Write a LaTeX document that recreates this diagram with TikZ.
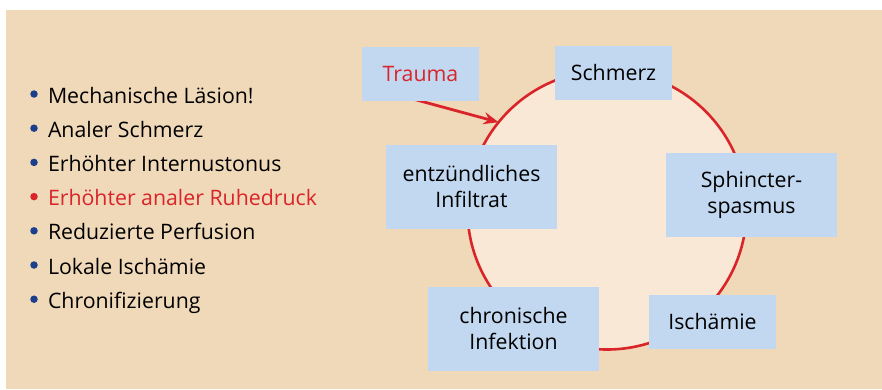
\documentclass[tikz,border=0pt]{standalone}
\usepackage{fontspec}
\setmainfont{Open Sans}
\usetikzlibrary{arrows.meta}
\definecolor{bgc}{HTML}{F0D9B9}
\definecolor{ringfill}{HTML}{F8E8D5}
\definecolor{boxc}{HTML}{C2D8F0}
\definecolor{redc}{HTML}{D9242A}
\definecolor{bluec}{HTML}{1B3F8B}
\begin{document}
\begin{tikzpicture}[x=1pt,y=-1pt,
  every node/.style={inner sep=0pt, outer sep=0pt},
  txt/.style={font=\fontsize{21.3}{26}\selectfont, text=black},
  box/.style={txt, fill=boxc, align=center},
  item/.style={txt, anchor=base west},
  bul/.style={circle, fill=bluec, minimum size=7.5pt},
  ring/.style={circle, draw=redc, line width=2.6pt, fill=ringfill, minimum size=279pt},
  arr/.style={draw=redc, line width=2.8pt, -{Stealth[length=15pt,width=12pt]}}]
\useasboundingbox (0,0) rectangle (882,389);
\fill[white] (0,0) rectangle (882,389);
\fill[bgc] (6,10) rectangle (882,389);
% list
\foreach \t [count=\i] in {Mechanische Läsion!,Analer Schmerz,Erhöhter Internustonus,Erhöhter analer Ruhedruck,Reduzierte Perfusion,Lokale Ischämie,Chronifizierung}{
  \pgfmathsetmacro{\yy}{103+34.2*(\i-1)}
  \ifnum\i=4
    \node[bul, fill=redc] (b\i) at (34,\yy-9) {};
    \node[item, text=redc] (t\i) at (48,\yy) {\t};
  \else
    \node[bul] (b\i) at (34,\yy-9) {};
    \node[item] (t\i) at (48,\yy) {\t};
  \fi
}
% ring
\node[ring] (cyc) at (607,210) {};
\coordinate (ts) at (413,99);
\draw[arr] (ts) -- (cyc.141);
% boxes
\node[box, minimum width=117pt, minimum height=54pt, text=redc] (trauma) at (420.5,74) {Trauma};
\node[box, minimum width=117pt, minimum height=54pt] (schmerz) at (613.5,73) {Schmerz};
\node[box, minimum width=171pt, minimum height=84pt] (infil) at (471.5,187) {entzündliches\\Infiltrat};
\node[box, minimum width=171pt, minimum height=84pt] (sphin) at (751.5,195) {Sphincter-\\spasmus};
\node[box, minimum width=171pt, minimum height=84pt] (chron) at (513.5,329) {chronische\\Infektion};
\node[box, minimum width=127pt, minimum height=54pt] (isch) at (712.5,322) {Ischämie};
\end{tikzpicture}
\end{document}
